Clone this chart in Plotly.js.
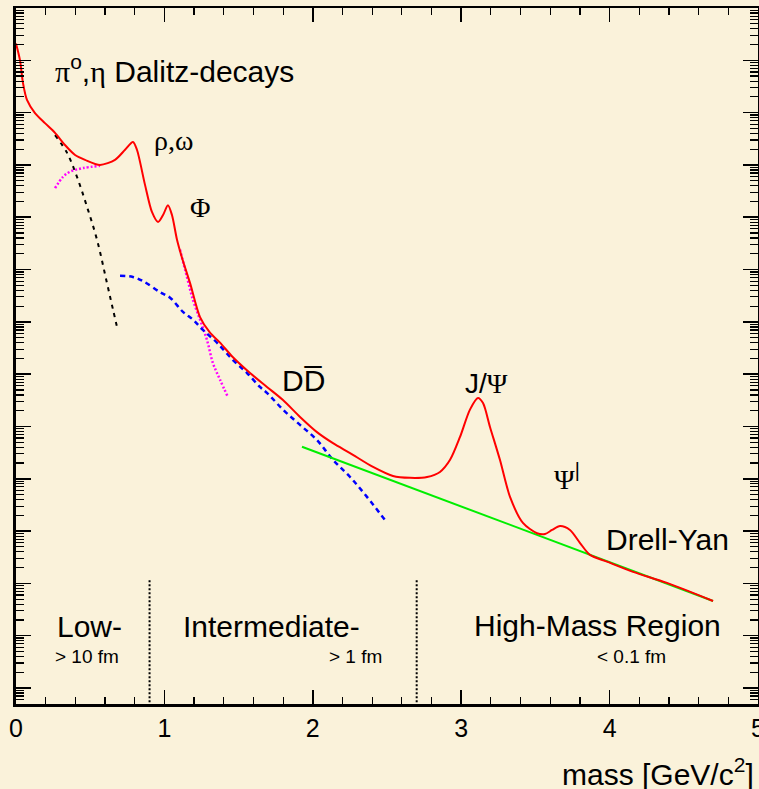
<!DOCTYPE html>
<html>
<head>
<meta charset="utf-8">
<script src="https://cdn.plot.ly/plotly-3.0.1.min.js"></script>
<style>
  html, body { margin: 0; padding: 0; background: #FAF2DA; }
  #chart { width: 759px; height: 789px; }
</style>
</head>
<body>
<div id="chart"></div>
<script>
// ---- data (mass in GeV/c^2, yield in arbitrary log units) ----
const massTotal = [0.000, 0.027, 0.047, 0.074, 0.128, 0.195, 0.263, 0.330, 0.398, 0.465, 0.566, 0.667, 0.735, 0.788, 0.815, 0.869, 0.916, 0.957, 0.991, 1.024, 1.051, 1.085, 1.119, 1.173, 1.240, 1.307, 1.375, 1.462, 1.577, 1.691, 1.799, 1.914, 2.028, 2.136, 2.251, 2.406, 2.540, 2.655, 2.770, 2.857, 2.925, 2.992, 3.059, 3.113, 3.147, 3.194, 3.261, 3.329, 3.416, 3.511, 3.565, 3.612, 3.666, 3.733, 3.801, 3.868, 3.982, 4.158, 4.387, 4.697];
const yieldTotal = [2.1e12, 1.0e12, 3.7e11, 1.75e11, 9.8e10, 6.3e10, 4.1e10, 2.4e10, 1.55e10, 1.25e10, 1.0e10, 1.25e10, 1.95e10, 2.75e10, 1.95e10, 4.2e9, 1.26e9, 8.1e8, 1.1e9, 1.7e9, 1.1e9, 3.7e8, 1.66e8, 5.5e7, 1.23e7, 6.2e6, 4.0e6, 2.1e6, 1.05e6, 5.7e5, 3.2e5, 1.52e5, 7.8e4, 4.8e4, 3.1e4, 1.68e4, 1.13e4, 1.04e4, 1.08e4, 1.35e4, 2.3e4, 6.3e4, 2.1e5, 3.5e5, 2.8e5, 9.8e4, 2.3e4, 4.5e3, 1.43e3, 9.1e2, 8.8e2, 1.05e3, 1.25e3, 1.05e3, 5.9e2, 3.5e2, 2.6e2, 1.66e2, 1.02e2, 46];

const massDrellYan = [1.927, 4.697];
const yieldDrellYan = [4.1e4, 46];

const massCharm = [0.701, 0.788, 0.856, 0.970, 1.038, 1.125, 1.193, 1.260, 1.354, 1.462, 1.557, 1.644, 1.691, 1.799, 1.914, 2.028, 2.136, 2.251, 2.365, 2.487];
const yieldCharm = [7.6e7, 7.2e7, 6.0e7, 3.7e7, 2.9e7, 1.55e7, 1.1e7, 7.0e6, 4.0e6, 1.86e6, 1.05e6, 5.7e5, 4.4e5, 2.1e5, 1.07e5, 5.5e4, 2.3e4, 1.08e4, 4.5e3, 1.62e3];

const massDalitz = [0.263, 0.344, 0.411, 0.478, 0.546, 0.613, 0.654, 0.687];
const yieldDalitz = [3.7e10, 1.7e10, 5.9e9, 1.6e9, 3.7e8, 5.5e7, 1.7e7, 6.7e6];

const massRhoTail = [0.263, 0.317, 0.364, 0.451, 0.566];
const yieldRhoTail = [3.6e9, 5.9e9, 7.4e9, 8.7e9, 9.6e9];

const massPhiTail = [1.105, 1.152, 1.193, 1.240, 1.287, 1.327, 1.375, 1.429];
const yieldPhiTail = [2.4e8, 7.2e7, 2.6e7, 1.1e7, 4.5e6, 1.63e6, 7.8e5, 3.6e5];

const regionBoundaries = [0.9, 2.7];
const boundaryYield = [115, 0.5];

const xTickValues = [0, 1, 2, 3, 4, 5];
const xTickLabels = ['0', '1', '2', '3', '4', '5'];

// ---- styling ----
const SANS = 'Liberation Sans, Arial, sans-serif';
const SERIF = "'Liberation Serif'";
const g = s => `<span style="font-family:${SERIF}">${s}</span>`;

const traces = [
  { x: massDalitz, y: yieldDalitz, mode: 'lines', line: { color: '#000000', width: 2, dash: '4px,5px', shape: 'spline' } },
  { x: massRhoTail, y: yieldRhoTail, mode: 'lines', line: { color: '#FF00FF', width: 2.5, dash: '2px,2px', shape: 'spline' } },
  { x: massPhiTail, y: yieldPhiTail, mode: 'lines', line: { color: '#FF00FF', width: 2.5, dash: '2px,2px', shape: 'spline' } },
  { x: massCharm, y: yieldCharm, mode: 'lines', line: { color: '#0000FF', width: 2.5, dash: '5px,4px', shape: 'spline' } },
  { x: massDrellYan, y: yieldDrellYan, mode: 'lines', line: { color: '#00EE00', width: 2 } },
  { x: massTotal, y: yieldTotal, mode: 'lines', line: { color: '#FF0000', width: 2, shape: 'spline', smoothing: 0.8 } }
];
regionBoundaries.forEach(xb => {
  traces.push({ x: [xb, xb], y: boundaryYield, mode: 'lines', line: { color: '#000000', width: 2, dash: '2px,2px' } });
});

function ann(text, x, y, size, extra) {
  return Object.assign({ text, x, y, xref: 'x', yref: 'y', xanchor: 'left', yanchor: 'middle',
    showarrow: false, font: { family: SANS, size, color: '#000000' } }, extra || {});
}

const annotations = [
  ann(g('π') + '<sup>o</sup>,' + g('η') + ' Dalitz-decays', 0.25, 11.83, 30),
  ann(g('ρ,ω'), 0.916, 10.46, 28),
  ann(g('Φ'), 1.159, 9.19, 28),
  ann('DD\u0305', 1.779, 5.87, 30),
  ann('J/' + g('Ψ'), 3.012, 5.83, 28),
  ann(g('Ψ') + '<sup>|</sup>', 3.612, 4.03, 28),
  ann('Drell-Yan', 3.962, 2.83, 30),
  ann('Low-', 0.263, 1.17, 30),
  ann('Intermediate-', 1.112, 1.17, 30),
  ann('High-Mass Region', 3.073, 1.19, 30),
  ann('&gt; 10 fm', 0.249, 0.61, 19),
  ann('&gt; 1 fm', 2.096, 0.61, 19),
  ann('&lt; 0.1 fm', 3.902, 0.61, 19),
  { text: 'mass [GeV/c<sup>2</sup>]', xref: 'paper', yref: 'paper', x: 1, y: -0.098,
    xanchor: 'right', yanchor: 'middle', showarrow: false, xshift: -2,
    font: { family: SANS, size: 30, color: '#000000' } }
];

const layout = {
  width: 759, height: 789,
  margin: { l: 16, r: 1, t: 8, b: 85 },
  paper_bgcolor: '#FAF2DA', plot_bgcolor: '#FAF2DA',
  showlegend: false,
  xaxis: {
    range: [0, 5], tickvals: xTickValues, ticktext: xTickLabels,
    ticks: 'inside', ticklen: 14, tickwidth: 1.5, tickcolor: '#000',
    minor: { dtick: 0.2, ticks: 'inside', ticklen: 7, tickwidth: 1.2, tickcolor: '#000', showgrid: false },
    showline: true, linewidth: 2.5, linecolor: '#000', mirror: 'ticks',
    showgrid: false, zeroline: false, automargin: false, ticklabeloverflow: 'allow',
    tickfont: { family: SANS, size: 25, color: '#000' }
  },
  yaxis: {
    type: 'log', range: [-0.306, 13.0], dtick: 1,
    ticks: 'inside', ticklen: 15, tickwidth: 1.5, tickcolor: '#000',
    minor: { dtick: 'D1', ticks: 'inside', ticklen: 8, tickwidth: 1.2, tickcolor: '#000', showgrid: false },
    showline: true, linewidth: 3, linecolor: '#000', mirror: 'ticks',
    showgrid: false, zeroline: false, showticklabels: false, automargin: false
  },
  annotations
};

Plotly.newPlot('chart', traces, layout, { displayModeBar: false, staticPlot: true });
</script>
</body>
</html>
